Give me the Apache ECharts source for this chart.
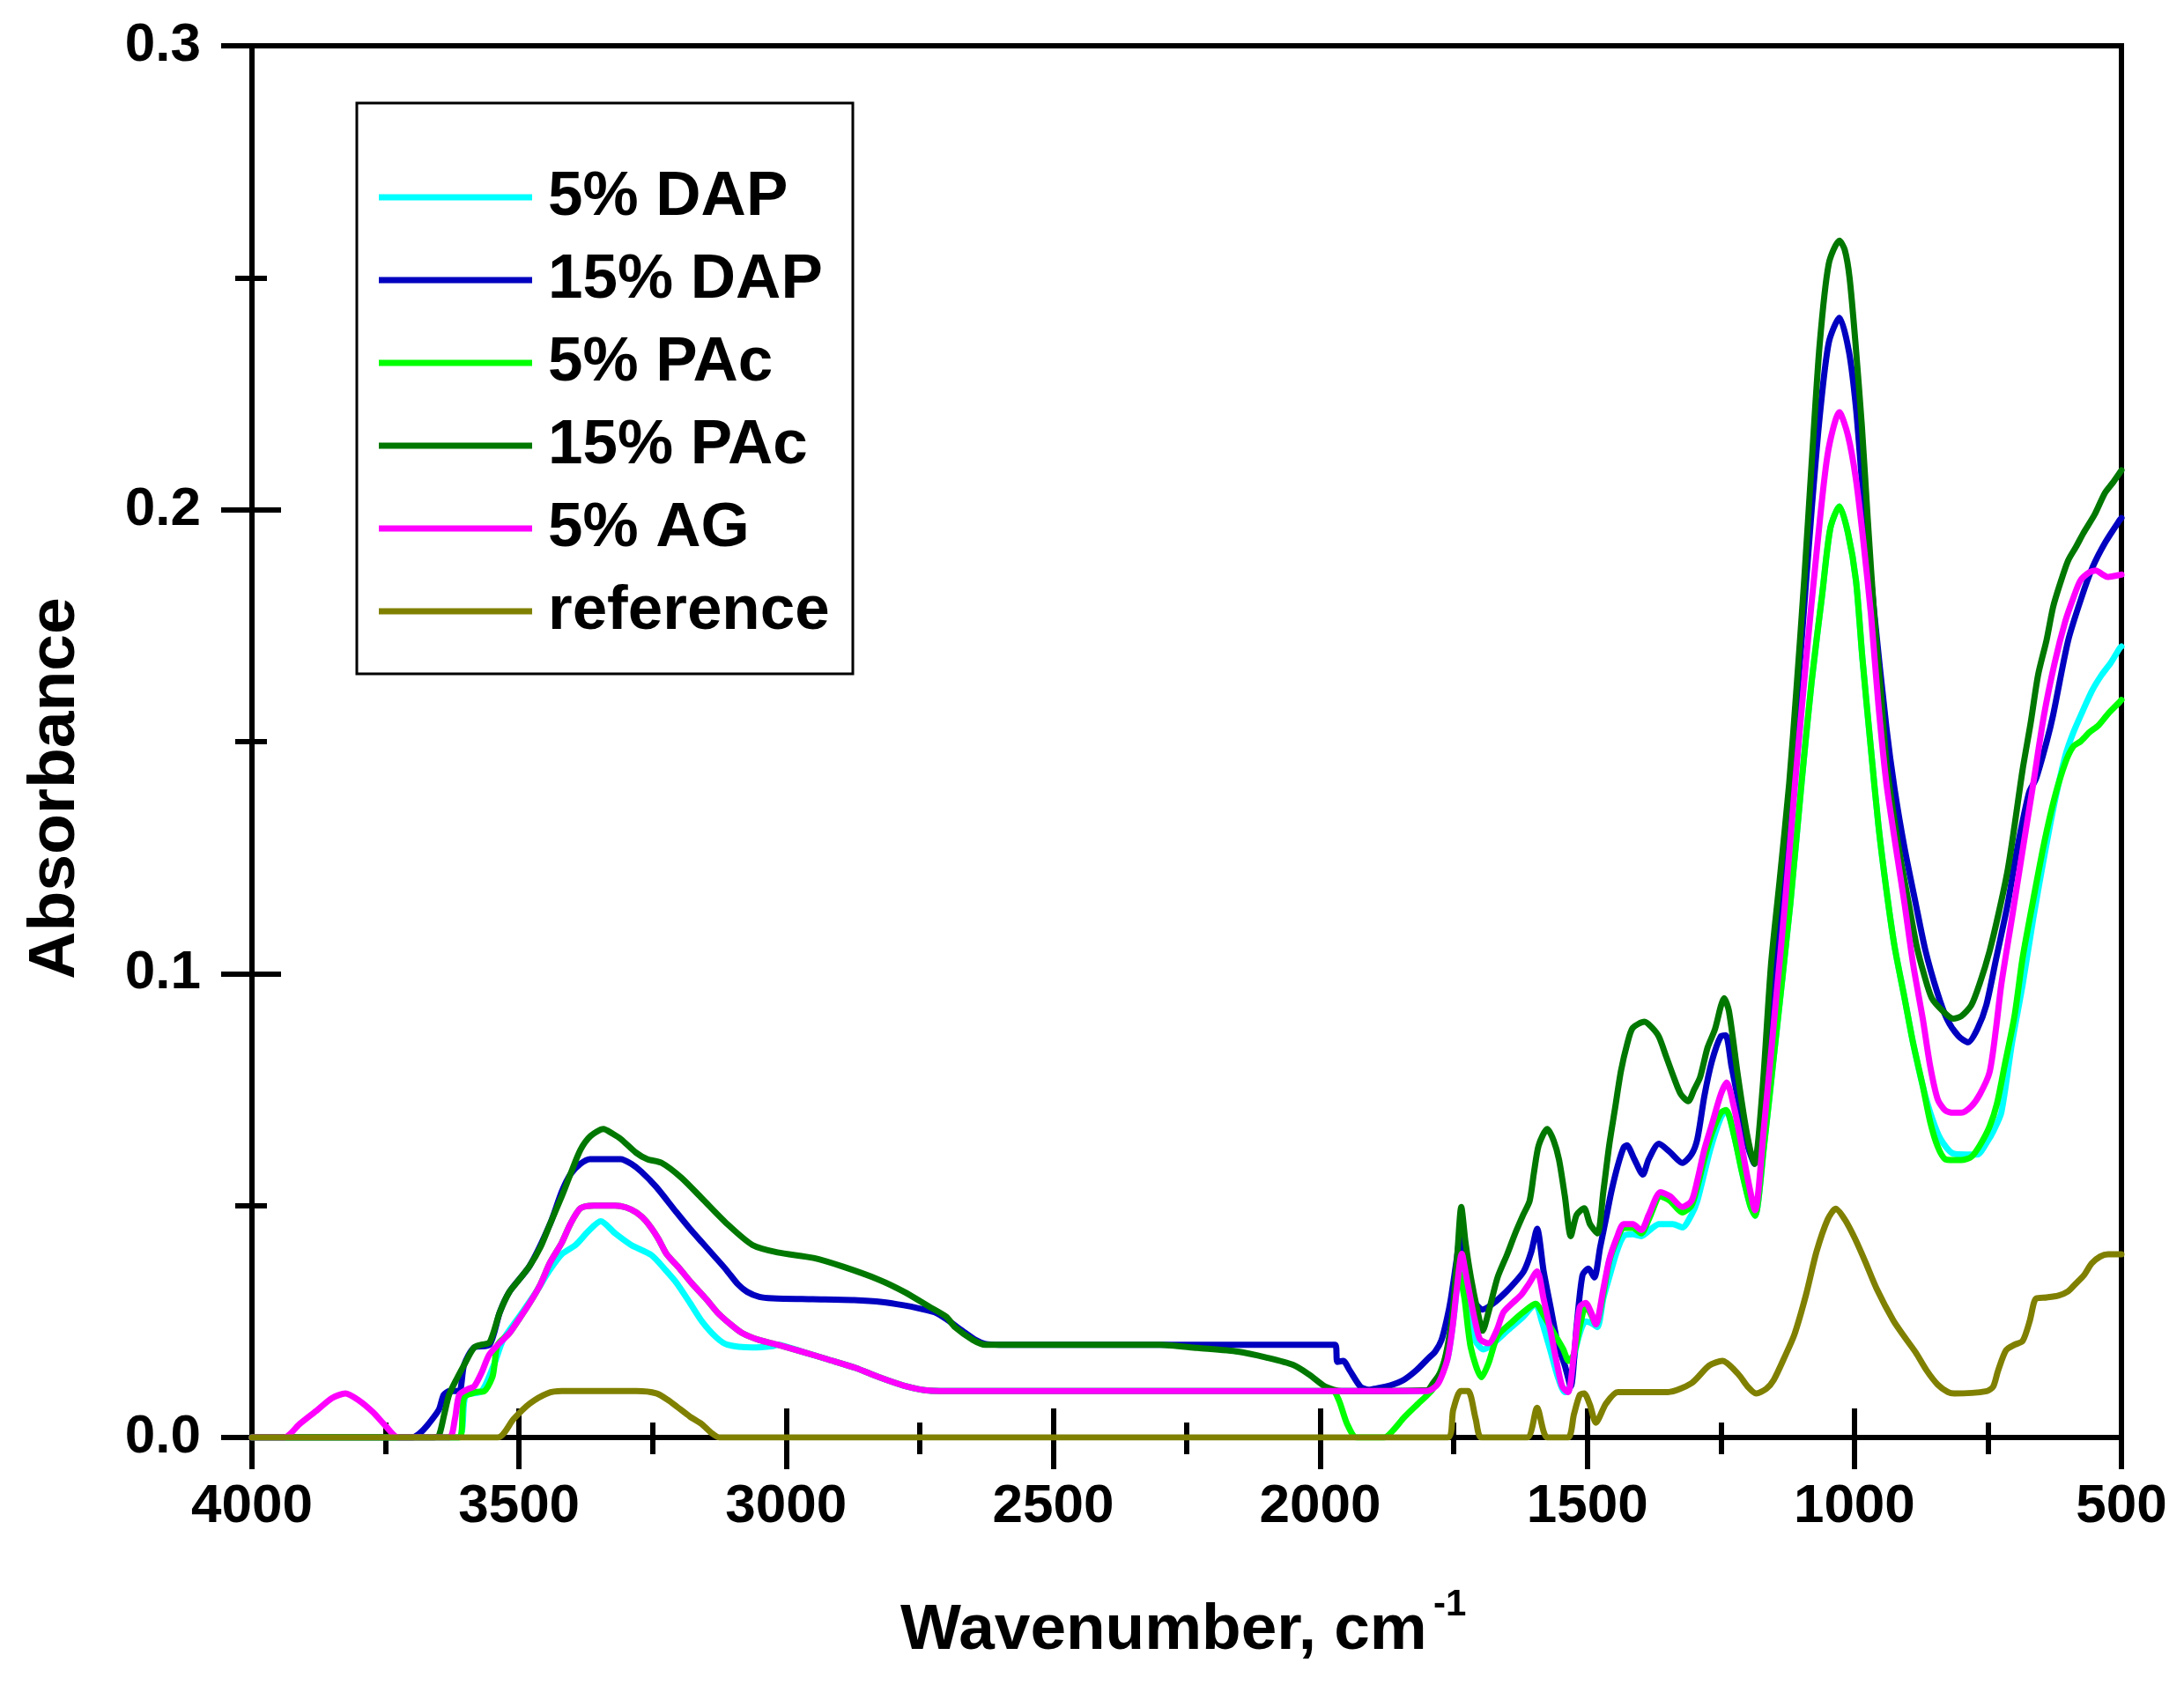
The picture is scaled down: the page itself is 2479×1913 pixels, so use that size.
<!DOCTYPE html>
<html>
<head>
<meta charset="utf-8">
<script src="https://cdn.jsdelivr.net/npm/echarts@6/dist/echarts.min.js"></script>
<style>
html,body{margin:0;padding:0;background:#fff;}
#chart{width:2479px;height:1913px;}
</style>
</head>
<body>
<div id="chart"></div>
<script>
// ---- Data (wavenumber cm-1, absorbance) ----
var seriesNames = ['5% DAP', '15% DAP', '5% PAc', '15% PAc', '5% AG', 'reference'];
var xTickValues = [4000, 3500, 3000, 2500, 2000, 1500, 1000, 500];
var yTickValues = [0.0, 0.1, 0.2, 0.3];

var dap5 = [[4000,0],[3615,0],[3600,0.009],[3570,0.01],[3546,0.016],[3530,0.021],[3500,0.026],[3470,0.031],[3443,0.036],[3420,0.0395],[3394,0.0415],[3370,0.0445],[3347,0.0466],[3320,0.044],[3290,0.0415],[3252,0.0393],[3225,0.036],[3205,0.0333],[3180,0.029],[3158,0.0251],[3130,0.0215],[3110,0.02],[3063,0.0194],[3025,0.0197],[3016,0.02],[2970,0.0185],[2921,0.0168],[2870,0.015],[2826,0.013],[2780,0.0112],[2732,0.0101],[2680,0.01],[1800,0.01],[1780,0.012],[1762,0.0168],[1750,0.026],[1738,0.037],[1725,0.028],[1710,0.021],[1695,0.019],[1679,0.02],[1650,0.023],[1620,0.026],[1597,0.0288],[1585,0.025],[1569,0.0187],[1555,0.013],[1542,0.0098],[1535,0.01],[1520,0.02],[1503,0.025],[1490,0.0245],[1481,0.0238],[1470,0.03],[1459,0.0345],[1445,0.04],[1432,0.0434],[1415,0.0438],[1399,0.0434],[1380,0.045],[1366,0.046],[1340,0.046],[1322,0.0453],[1305,0.048],[1294,0.051],[1270,0.062],[1250,0.069],[1240,0.0705],[1225,0.065],[1210,0.057],[1195,0.05],[1186,0.0478],[1170,0.062],[1150,0.083],[1120,0.115],[1099,0.141],[1080,0.163],[1060,0.182],[1045,0.196],[1028,0.2007],[1012,0.195],[997,0.1847],[985,0.168],[969,0.1484],[955,0.132],[940,0.118],[925,0.106],[906,0.0947],[890,0.085],[872,0.0758],[855,0.069],[838,0.0642],[815,0.0612],[790,0.061],[770,0.061],[750,0.064],[740,0.066],[725,0.07],[705,0.085],[685,0.0976],[665,0.112],[645,0.125],[625,0.137],[605,0.147],[590,0.152],[571,0.157],[555,0.161],[537,0.1644],[520,0.167],[503,0.1702],[500,0.1705]];

var dap15 = [[4000,0],[3700,0],[3685,0.001],[3669,0.003],[3650,0.006],[3641,0.0092],[3630,0.01],[3612,0.01],[3603,0.0156],[3584,0.0194],[3555,0.02],[3536,0.027],[3518,0.0314],[3480,0.037],[3442,0.046],[3420,0.053],[3404,0.0567],[3385,0.059],[3367,0.06],[3310,0.06],[3290,0.059],[3271,0.0573],[3243,0.054],[3205,0.0485],[3180,0.045],[3157,0.042],[3130,0.0385],[3111,0.036],[3090,0.033],[3073,0.0314],[3050,0.0303],[3025,0.03],[2950,0.0298],[2873,0.0296],[2820,0.0292],[2780,0.0285],[2750,0.0278],[2722,0.027],[2700,0.0255],[2670,0.023],[2645,0.021],[2628,0.0202],[2600,0.02],[1972,0.02],[1968,0.0163],[1957,0.0165],[1945,0.0145],[1925,0.011],[1910,0.0103],[1899,0.0105],[1870,0.0112],[1844,0.0124],[1820,0.0145],[1800,0.0168],[1785,0.0185],[1773,0.021],[1762,0.026],[1756,0.0295],[1745,0.038],[1737,0.044],[1725,0.035],[1710,0.029],[1696,0.0276],[1675,0.029],[1652,0.0314],[1635,0.0335],[1619,0.0358],[1605,0.04],[1594,0.045],[1582,0.036],[1569,0.0282],[1555,0.02],[1542,0.0155],[1531,0.011],[1520,0.024],[1509,0.035],[1498,0.0364],[1487,0.0345],[1476,0.041],[1465,0.0472],[1455,0.053],[1443,0.0586],[1432,0.0625],[1426,0.063],[1412,0.06],[1396,0.0567],[1385,0.06],[1366,0.0633],[1345,0.0615],[1322,0.0592],[1305,0.061],[1294,0.0643],[1281,0.0735],[1267,0.081],[1250,0.0865],[1241,0.0867],[1230,0.08],[1217,0.0725],[1200,0.063],[1187,0.059],[1170,0.075],[1156,0.095],[1140,0.115],[1122,0.138],[1100,0.17],[1080,0.2],[1065,0.22],[1048,0.236],[1028,0.2414],[1010,0.234],[997,0.222],[986,0.2065],[963,0.178],[940,0.153],[925,0.14],[906,0.127],[885,0.115],[867,0.105],[845,0.096],[827,0.0903],[805,0.0865],[787,0.0852],[770,0.088],[753,0.0932],[735,0.103],[713,0.115],[695,0.127],[673,0.139],[660,0.142],[640,0.15],[628,0.1557],[600,0.1717],[575,0.181],[554,0.1876],[530,0.193],[503,0.1978],[500,0.1982]];

var pac5 = [[4000,0],[3612,0],[3603,0.0086],[3580,0.0098],[3565,0.01],[3550,0.013],[3546,0.0156],[3540,0.02],[3518,0.0225],[3500,0.0255],[3480,0.029],[3460,0.033],[3442,0.0377],[3420,0.042],[3404,0.046],[3385,0.0494],[3360,0.05],[3320,0.05],[3300,0.0496],[3280,0.0485],[3262,0.0466],[3240,0.043],[3224,0.0396],[3200,0.0365],[3177,0.0333],[3150,0.0299],[3129,0.027],[3105,0.0245],[3082,0.0225],[3050,0.021],[3016,0.02],[2970,0.0185],[2921,0.0168],[2870,0.015],[2826,0.013],[2780,0.0112],[2732,0.0101],[2680,0.01],[1977,0.01],[1965,0.008],[1950,0.003],[1932,0],[1880,0],[1860,0.002],[1844,0.0042],[1815,0.0075],[1789,0.0105],[1762,0.0187],[1750,0.028],[1740,0.0355],[1730,0.03],[1718,0.0193],[1698,0.013],[1685,0.016],[1668,0.0219],[1640,0.025],[1620,0.027],[1597,0.0288],[1580,0.026],[1560,0.022],[1545,0.019],[1535,0.0165],[1525,0.018],[1512,0.025],[1503,0.0285],[1493,0.0265],[1484,0.0244],[1470,0.031],[1459,0.038],[1445,0.0425],[1432,0.0452],[1415,0.0452],[1399,0.044],[1385,0.047],[1363,0.052],[1345,0.051],[1322,0.0485],[1305,0.05],[1294,0.054],[1281,0.06],[1267,0.0655],[1250,0.07],[1240,0.0706],[1225,0.065],[1210,0.057],[1195,0.05],[1186,0.0478],[1170,0.062],[1150,0.083],[1120,0.115],[1099,0.141],[1080,0.163],[1060,0.182],[1045,0.196],[1028,0.2007],[1012,0.195],[997,0.1847],[985,0.168],[969,0.1484],[955,0.132],[940,0.118],[925,0.106],[906,0.0947],[890,0.085],[872,0.0758],[858,0.068],[844,0.0627],[830,0.06],[815,0.0598],[800,0.0598],[781,0.0605],[765,0.063],[747,0.067],[733,0.072],[719,0.08],[700,0.091],[685,0.1034],[665,0.116],[645,0.128],[625,0.138],[605,0.1455],[590,0.149],[577,0.15],[560,0.152],[543,0.1535],[525,0.156],[503,0.1586],[500,0.159]];

var pac15 = [[4000,0],[3660,0],[3650,0.0004],[3640,0.005],[3631,0.0092],[3615,0.013],[3603,0.0156],[3584,0.0194],[3570,0.02],[3555,0.0205],[3536,0.027],[3518,0.0314],[3500,0.034],[3480,0.037],[3460,0.041],[3442,0.046],[3420,0.052],[3404,0.0567],[3385,0.062],[3366,0.065],[3342,0.0665],[3325,0.0655],[3309,0.0643],[3281,0.0614],[3260,0.06],[3233,0.0592],[3196,0.056],[3158,0.0516],[3110,0.046],[3063,0.0415],[3016,0.0399],[2949,0.0387],[2893,0.0368],[2826,0.034],[2779,0.0314],[2732,0.0282],[2700,0.026],[2684,0.0238],[2650,0.021],[2627,0.02],[2300,0.02],[2230,0.0193],[2154,0.0185],[2100,0.0172],[2050,0.0156],[2020,0.0135],[1991,0.011],[1960,0.01],[1800,0.0102],[1789,0.0117],[1775,0.014],[1767,0.0168],[1758,0.022],[1751,0.028],[1743,0.04],[1736,0.0497],[1728,0.042],[1718,0.0345],[1705,0.027],[1696,0.023],[1685,0.027],[1668,0.0345],[1650,0.0395],[1635,0.044],[1620,0.048],[1608,0.051],[1600,0.057],[1591,0.063],[1575,0.0665],[1563,0.064],[1553,0.0599],[1542,0.052],[1531,0.0434],[1520,0.048],[1506,0.0494],[1495,0.046],[1481,0.044],[1470,0.053],[1459,0.063],[1448,0.071],[1437,0.079],[1425,0.085],[1415,0.0883],[1393,0.0896],[1380,0.0885],[1366,0.0864],[1352,0.082],[1338,0.0776],[1325,0.074],[1311,0.0725],[1300,0.075],[1289,0.0776],[1275,0.084],[1261,0.088],[1250,0.093],[1244,0.0947],[1235,0.092],[1219,0.0787],[1205,0.068],[1195,0.062],[1187,0.059],[1172,0.075],[1156,0.102],[1140,0.12],[1122,0.141],[1108,0.162],[1094,0.1847],[1080,0.21],[1065,0.2356],[1048,0.253],[1028,0.258],[1018,0.256],[1009,0.25],[998,0.236],[986,0.218],[975,0.198],[963,0.1775],[950,0.16],[940,0.1455],[925,0.133],[912,0.1237],[898,0.115],[884,0.1063],[870,0.1],[855,0.0947],[835,0.092],[815,0.0903],[800,0.0908],[781,0.0932],[765,0.098],[747,0.1048],[730,0.113],[713,0.1223],[700,0.132],[685,0.144],[670,0.154],[656,0.1644],[640,0.172],[628,0.179],[615,0.184],[600,0.189],[585,0.192],[571,0.195],[550,0.199],[531,0.2036],[515,0.206],[503,0.208],[500,0.2085]];

var ag5 = [[4000,0],[3940,0],[3910,0.003],[3877,0.006],[3850,0.0085],[3825,0.0095],[3800,0.008],[3773,0.0054],[3750,0.0025],[3726,0],[3631,0],[3620,0.004],[3612,0.0092],[3595,0.0105],[3584,0.011],[3570,0.014],[3555,0.018],[3518,0.0225],[3500,0.0255],[3480,0.029],[3460,0.033],[3442,0.0377],[3420,0.042],[3404,0.046],[3385,0.0494],[3360,0.05],[3320,0.05],[3300,0.0496],[3280,0.0485],[3262,0.0466],[3240,0.043],[3224,0.0396],[3200,0.0365],[3177,0.0333],[3150,0.0299],[3129,0.027],[3105,0.0245],[3082,0.0225],[3050,0.021],[3016,0.02],[2970,0.0185],[2921,0.0168],[2870,0.015],[2826,0.013],[2780,0.0112],[2732,0.0101],[2680,0.01],[1800,0.01],[1780,0.0115],[1762,0.0168],[1752,0.024],[1745,0.0314],[1735,0.0396],[1727,0.035],[1718,0.0295],[1710,0.025],[1701,0.0212],[1685,0.0203],[1670,0.023],[1657,0.027],[1640,0.029],[1624,0.0307],[1610,0.033],[1594,0.0358],[1582,0.03],[1569,0.023],[1557,0.016],[1547,0.011],[1536,0.0098],[1525,0.018],[1514,0.0282],[1503,0.029],[1493,0.027],[1484,0.0244],[1470,0.032],[1459,0.0383],[1445,0.043],[1432,0.046],[1415,0.046],[1399,0.0447],[1385,0.048],[1363,0.0529],[1345,0.052],[1322,0.0497],[1305,0.051],[1294,0.0554],[1281,0.062],[1267,0.0674],[1250,0.074],[1239,0.0765],[1225,0.071],[1213,0.0642],[1200,0.056],[1186,0.049],[1170,0.066],[1150,0.0903],[1130,0.115],[1111,0.141],[1090,0.168],[1071,0.1905],[1050,0.212],[1028,0.221],[1012,0.216],[997,0.2065],[983,0.193],[969,0.1775],[955,0.158],[940,0.141],[922,0.127],[906,0.115],[890,0.102],[872,0.0903],[858,0.08],[844,0.0729],[830,0.0705],[815,0.07],[800,0.07],[781,0.0714],[765,0.074],[747,0.0787],[735,0.088],[725,0.0976],[705,0.112],[685,0.1266],[665,0.141],[645,0.1557],[625,0.167],[605,0.176],[590,0.181],[577,0.1847],[560,0.1865],[548,0.1869],[535,0.186],[526,0.1855],[510,0.1858],[500,0.186]];

var reference = [[4000,0],[3540,0],[3510,0.004],[3480,0.0073],[3447,0.0095],[3420,0.01],[3280,0.01],[3243,0.0095],[3220,0.008],[3205,0.0067],[3180,0.0045],[3158,0.0029],[3140,0.001],[3125,0],[1762,0],[1751,0.006],[1737,0.01],[1723,0.01],[1709,0.004],[1698,0],[1613,0],[1594,0.0064],[1575,0],[1536,0],[1525,0.005],[1514,0.0092],[1506,0.0095],[1495,0.007],[1484,0.0032],[1465,0.0073],[1443,0.0098],[1349,0.0098],[1305,0.0117],[1272,0.0155],[1247,0.0165],[1217,0.0136],[1200,0.011],[1184,0.0095],[1165,0.0105],[1151,0.0124],[1130,0.0175],[1112,0.0223],[1090,0.031],[1071,0.04],[1050,0.047],[1035,0.0493],[1018,0.047],[999,0.0429],[980,0.038],[958,0.032],[927,0.0252],[905,0.0215],[885,0.0183],[865,0.0145],[844,0.0114],[825,0.0098],[813,0.0095],[752,0.01],[740,0.011],[731,0.0144],[716,0.0188],[700,0.02],[685,0.0208],[672,0.025],[664,0.029],[659,0.03],[640,0.0302],[618,0.0306],[600,0.0315],[587,0.033],[570,0.035],[556,0.0375],[540,0.039],[525,0.0395],[505,0.0395],[500,0.0395]];

var seriesData = [dap5, dap15, pac5, pac15, ag5, reference];
var seriesColors = ['#00FFFF', '#0000C0', '#00FF00', '#007800', '#FF00FF', '#808000'];

// ---- Chart ----
var FONT = 'Liberation Sans, Arial, sans-serif';
var chart = echarts.init(document.getElementById('chart'), null, {renderer: 'canvas'});

function axisCommon(extra) {
  var base = {
    axisLine: {show: true, onZero: false, lineStyle: {color: '#000', width: 6, cap: 'square'}},
    splitLine: {show: false},
    minorSplitLine: {show: false}
  };
  return Object.assign(base, extra);
}

var xLabelStyle = {show: true, margin: 48, color: '#000', fontSize: 62, fontWeight: 'bold', fontFamily: FONT,
  formatter: function (v) { return String(v); }};
var yLabelStyle = {show: true, margin: 58, color: '#000', fontSize: 62, fontWeight: 'bold', fontFamily: FONT,
  formatter: function (v) { return v.toFixed(1); }};

var xMin = xTickValues[xTickValues.length - 1], xMax = xTickValues[0];
var yMin = yTickValues[0], yMax = yTickValues[yTickValues.length - 1];

var xAxes = [
  axisCommon({type: 'value', gridIndex: 0, position: 'bottom', min: xMin, max: xMax, interval: 500, inverse: true,
    axisTick: {show: true, inside: true, length: 33, lineStyle: {color: '#000', width: 6}},
    minorTick: {show: true, splitNumber: 2, length: 17, lineStyle: {color: '#000', width: 6}},
    axisLabel: xLabelStyle}),
  axisCommon({type: 'value', gridIndex: 0, position: 'bottom', min: xMin, max: xMax, interval: 500, inverse: true,
    axisTick: {show: true, inside: false, length: 36, lineStyle: {color: '#000', width: 6}},
    minorTick: {show: true, splitNumber: 2, length: 19, lineStyle: {color: '#000', width: 6}},
    axisLabel: {show: false}})
];
var yAxes = [
  axisCommon({type: 'value', gridIndex: 0, position: 'left', min: yMin, max: yMax, interval: 0.1,
    axisTick: {show: true, inside: true, length: 33, lineStyle: {color: '#000', width: 6}},
    minorTick: {show: true, splitNumber: 2, length: 17, lineStyle: {color: '#000', width: 6}},
    axisLabel: yLabelStyle}),
  axisCommon({type: 'value', gridIndex: 0, position: 'left', min: yMin, max: yMax, interval: 0.1,
    axisTick: {show: true, inside: false, length: 35, lineStyle: {color: '#000', width: 6}},
    minorTick: {show: true, splitNumber: 2, length: 19, lineStyle: {color: '#000', width: 6}},
    axisLabel: {show: false}})
];

var series = seriesNames.map(function (name, i) {
  return {
    name: name,
    type: 'line',
    xAxisIndex: 0,
    yAxisIndex: 0,
    data: seriesData[i],
    showSymbol: false,
    symbol: 'none',
    smooth: 0.25,
    clip: true,
    lineStyle: {color: seriesColors[i], width: 7, cap: 'round', join: 'round'},
    itemStyle: {color: seriesColors[i]},
    emphasis: {disabled: true},
    animation: false
  };
});

var option = {
  animation: false,
  backgroundColor: '#ffffff',
  grid: {left: 286, right: 71, top: 52, bottom: 281, show: true, borderColor: '#000', borderWidth: 6, backgroundColor: 'transparent'},
  xAxis: xAxes,
  yAxis: yAxes,
  legend: {
    show: true,
    orient: 'vertical',
    left: 430,
    top: 177,
    padding: 0,
    itemGap: 0,
    itemWidth: 174,
    itemHeight: 7,
    icon: 'rect',
    data: seriesNames,
    selectedMode: false,
    textStyle: {color: '#000', fontSize: 71, fontWeight: 'bold', fontFamily: FONT, lineHeight: 94, padding: [0, 0, 0, 13]}
  },
  graphic: [
    {type: 'rect', shape: {x: 405, y: 117, width: 563, height: 648}, style: {fill: 'none', stroke: '#000', lineWidth: 3}, z: 10},
    {type: 'text', x: 63, y: 895, rotation: Math.PI / 2,
      style: {text: 'Absorbance', fill: '#000', font: 'bold 75px ' + FONT, align: 'center', verticalAlign: 'middle'}},
    {type: 'text', x: 1022, y: 1852,
      style: {text: 'Wavenumber, cm', fill: '#000', font: 'bold 73px ' + FONT, align: 'left', verticalAlign: 'middle'}},
    {type: 'text', x: 1627, y: 1822,
      style: {text: '-1', fill: '#000', font: 'bold 42px ' + FONT, align: 'left', verticalAlign: 'middle'}}
  ],
  series: series
};
chart.setOption(option);
</script>
</body>
</html>
